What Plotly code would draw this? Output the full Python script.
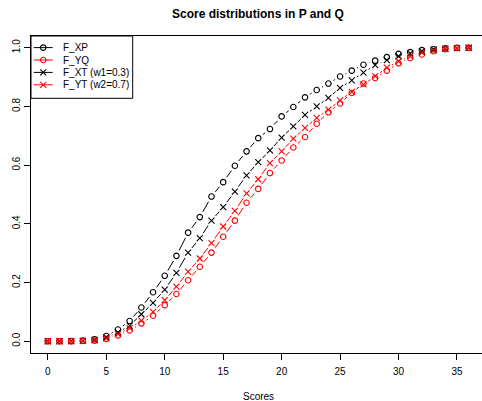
import math
import plotly.graph_objects as go

# ---------------- data ----------------
scores = list(range(37))
F_XP = [0.0, 0.0, 0.0005, 0.002, 0.007, 0.018, 0.040, 0.069, 0.115, 0.167,
        0.223, 0.291, 0.370, 0.423, 0.493, 0.542, 0.598, 0.647, 0.692, 0.723,
        0.766, 0.798, 0.831, 0.856, 0.878, 0.902, 0.922, 0.942, 0.956, 0.968,
        0.979, 0.985, 0.992, 0.995, 0.998, 1.0, 1.0]
F_YQ = [0.0, 0.0, 0.0002, 0.0008, 0.002, 0.008, 0.020, 0.037, 0.061, 0.087,
        0.123, 0.161, 0.208, 0.254, 0.302, 0.356, 0.411, 0.472, 0.519, 0.573,
        0.616, 0.660, 0.696, 0.741, 0.780, 0.810, 0.846, 0.878, 0.897, 0.922,
        0.947, 0.965, 0.977, 0.988, 0.995, 0.999, 1.0]
F_XT = [0.0, 0.0, 0.0003, 0.0012, 0.005, 0.013, 0.030, 0.053, 0.092, 0.131,
        0.176, 0.233, 0.302, 0.351, 0.411, 0.457, 0.510, 0.565, 0.610, 0.650,
        0.694, 0.732, 0.771, 0.800, 0.829, 0.863, 0.889, 0.915, 0.941, 0.958,
        0.971, 0.981, 0.988, 0.994, 0.997, 0.999, 1.0]
F_YT = [0.0, 0.0, 0.0002, 0.001, 0.003, 0.010, 0.024, 0.045, 0.070, 0.100,
        0.140, 0.186, 0.237, 0.282, 0.334, 0.391, 0.444, 0.504, 0.552, 0.607,
        0.647, 0.690, 0.727, 0.761, 0.789, 0.821, 0.850, 0.875, 0.903, 0.932,
        0.954, 0.971, 0.983, 0.991, 0.996, 0.999, 1.0]
series_names = ["F_XP", "F_YQ", "F_XT (w1=0.3)", "F_YT (w2=0.7)"]
x_ticks = [0, 5, 10, 15, 20, 25, 30, 35]
y_ticks = [0.0, 0.2, 0.4, 0.6, 0.8, 1.0]
title_text = "Score distributions in P and Q"
x_label = "Scores"

# ---------------- layout geometry ----------------
W, H = 482, 401
L, T, B, R = 31, 36, 48, 0
plot_w = W - L - R
plot_h = H - T - B
X_PX_PER_UNIT = 11.69
XR = [-1.44, -1.44 + plot_w / X_PX_PER_UNIT]
YR = [-0.04, 1.04]
px_x = plot_w / (XR[1] - XR[0])
px_y = plot_h / (YR[1] - YR[0])
FULL_RIGHT = L + (XR[1] - XR[0]) * 0 + 454.7  # right edge of R's plot box (off-image)
GAP = 6.0  # pixel gap around points (R type="b")

FONT = "Liberation Sans, Arial, Helvetica, sans-serif"
BLACK = "#000000"
RED = "#FF0000"
CIRCLE_SIZE = 5.5
X_SIZE = 6


def gapped(xs, ys):
    ox, oy = [], []
    for i in range(len(xs) - 1):
        dx = xs[i + 1] - xs[i]
        dy = ys[i + 1] - ys[i]
        d = math.hypot(dx * px_x, dy * px_y)
        if d > 2 * GAP:
            f = GAP / d
            ox += [xs[i] + f * dx, xs[i + 1] - f * dx, None]
            oy += [ys[i] + f * dy, ys[i + 1] - f * dy, None]
    return ox, oy


styles = [
    (F_XP, BLACK, "circle-open"),
    (F_YQ, RED, "circle-open"),
    (F_XT, BLACK, "x-thin-open"),
    (F_YT, RED, "x-thin-open"),
]

fig = go.Figure()
for (vals, col, sym), name in zip(styles, series_names):
    gx, gy = gapped(scores, vals)
    fig.add_trace(go.Scatter(x=gx, y=gy, mode="lines", name=name,
                             line=dict(color=col, width=1),
                             showlegend=False, hoverinfo="skip"))
    fig.add_trace(go.Scatter(x=scores, y=vals, mode="markers", name=name,
                             marker=dict(symbol=sym, size=CIRCLE_SIZE if "circle" in sym else X_SIZE,
                                         color=col, line=dict(color=col, width=1.1)),
                             showlegend=False))

# ---------------- manual legend (pixel coordinates on hidden overlay axes) ----
leg_rows = [47.6, 60.0, 72.4, 84.8]
leg_line_x = [33.7, 52.7]
leg_mark_x = 43.2
leg_text_x = 61.0
for (vals, col, sym), name, ry in zip(styles, series_names, leg_rows):
    fig.add_trace(go.Scatter(x=leg_line_x, y=[ry, ry], mode="lines",
                             line=dict(color=col, width=1), xaxis="x2", yaxis="y2",
                             showlegend=False, hoverinfo="skip"))
    fig.add_trace(go.Scatter(x=[leg_mark_x], y=[ry], mode="markers",
                             marker=dict(symbol=sym, size=CIRCLE_SIZE if "circle" in sym else X_SIZE,
                                         color=col, line=dict(color=col, width=1.1)),
                             xaxis="x2", yaxis="y2", showlegend=False, hoverinfo="skip"))
    fig.add_annotation(x=leg_text_x, y=ry, xref="x2", yref="y2", text=name,
                       showarrow=False, xanchor="left", yanchor="middle",
                       font=dict(family=FONT, size=10, color=BLACK))

fig.add_shape(type="rect", xref="x2", yref="y2", x0=L, x1=132.7, y0=T, y1=98.3,
              line=dict(color=BLACK, width=1), fillcolor="rgba(0,0,0,0)")

center_paper = ((L + FULL_RIGHT) / 2 - L) / plot_w
fig.add_annotation(x=center_paper, y=(T + plot_h - 13.5) / plot_h, xref="paper", yref="paper",
                   text=f"<b>{title_text}</b>",
                   showarrow=False, xanchor="center", yanchor="middle",
                   font=dict(family=FONT, size=12, color=BLACK))
fig.add_annotation(x=center_paper, y=(T + plot_h - 396) / plot_h, xref="paper", yref="paper",
                   text=x_label,
                   showarrow=False, xanchor="center", yanchor="middle",
                   font=dict(family=FONT, size=10, color=BLACK))

fig.update_layout(
    width=W, height=H,
    margin=dict(l=L, r=R, t=T, b=B, pad=0),
    paper_bgcolor="white", plot_bgcolor="white",
    showlegend=False,
    font=dict(family=FONT, size=10, color=BLACK),
    xaxis=dict(range=XR, tickvals=x_ticks, ticktext=[str(v) for v in x_ticks],
               showgrid=False, zeroline=False, showline=True, mirror=True,
               linecolor=BLACK, linewidth=1, ticks="outside", ticklen=6,
               tickcolor=BLACK, tickwidth=1, ticklabelstandoff=3,
               tickfont=dict(family=FONT, size=10, color=BLACK)),
    yaxis=dict(range=YR, tickvals=y_ticks, ticktext=[f"{v:.1f}" for v in y_ticks],
               tickangle=-90,
               showgrid=False, zeroline=False, showline=True, mirror=False,
               linecolor=BLACK, linewidth=1, ticks="outside", ticklen=6,
               tickcolor=BLACK, tickwidth=1,
               tickfont=dict(family=FONT, size=10, color=BLACK)),
    xaxis2=dict(range=[L, W], overlaying="x", visible=False, fixedrange=True),
    yaxis2=dict(range=[T + plot_h, T], overlaying="y", visible=False, fixedrange=True),
)

fig.write_html("out.html")
